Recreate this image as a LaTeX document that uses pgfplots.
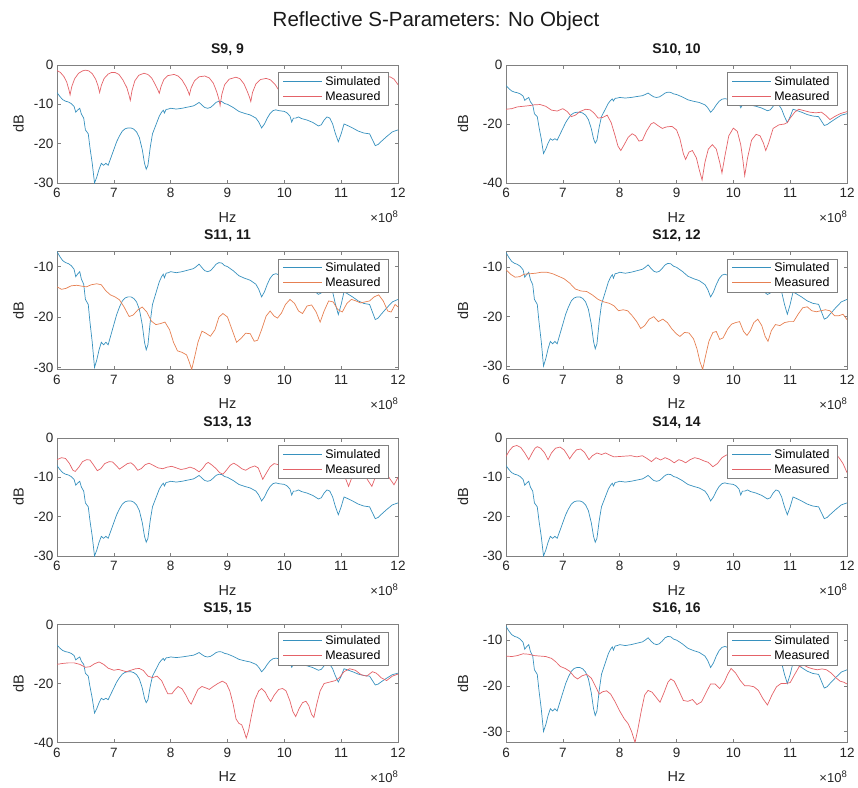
\documentclass[border=0pt]{standalone}
\usepackage{pgfplots}
\usepackage{pgfplotstable}
\pgfplotsset{compat=1.18}
\usepackage{fontspec}
\setmainfont{Liberation Sans}
\definecolor{simc}{RGB}{55,145,190}
\definecolor{measc}{RGB}{228,98,104}
\definecolor{measo}{RGB}{230,128,82}

\pgfplotstableread{
x y
6.00 -7.0
6.05 -8.0
6.10 -8.8
6.15 -9.2
6.20 -9.4
6.25 -9.8
6.30 -10.5
6.33 -12.0
6.36 -11.5
6.40 -11.0
6.43 -12.5
6.47 -13.5
6.50 -16.5
6.55 -17.5
6.58 -21.0
6.62 -25.0
6.66 -30.0
6.70 -28.5
6.74 -26.5
6.78 -25.0
6.82 -25.5
6.86 -25.0
6.90 -25.5
6.95 -23.5
7.00 -21.5
7.05 -19.5
7.10 -18.0
7.15 -16.8
7.20 -16.2
7.25 -16.0
7.30 -16.0
7.35 -16.3
7.40 -17.0
7.45 -18.5
7.50 -21.5
7.54 -25.0
7.57 -26.5
7.60 -25.5
7.64 -21.0
7.68 -17.5
7.72 -16.0
7.76 -14.5
7.80 -13.0
7.84 -12.0
7.87 -11.5
7.89 -12.2
7.92 -11.3
7.96 -11.2
8.00 -11.0
8.10 -11.2
8.20 -11.0
8.30 -10.7
8.40 -10.4
8.45 -10.0
8.50 -9.5
8.55 -10.2
8.60 -10.8
8.65 -11.0
8.70 -10.8
8.75 -10.2
8.80 -9.5
8.85 -9.2
8.90 -9.3
8.95 -9.8
9.00 -10.0
9.10 -10.8
9.20 -11.8
9.30 -12.3
9.40 -12.7
9.50 -13.5
9.55 -14.5
9.60 -16.0
9.65 -15.0
9.70 -13.5
9.75 -12.3
9.80 -11.6
9.85 -11.4
9.90 -11.6
10.00 -11.8
10.05 -12.2
10.10 -13.0
10.13 -14.5
10.16 -13.5
10.20 -13.5
10.25 -13.2
10.30 -13.6
10.40 -14.0
10.50 -14.6
10.60 -15.5
10.65 -15.2
10.70 -14.0
10.75 -13.2
10.80 -13.5
10.85 -15.0
10.90 -17.5
10.95 -19.5
11.00 -17.5
11.05 -15.0
11.10 -15.3
11.20 -16.0
11.30 -16.8
11.40 -17.3
11.50 -17.5
11.55 -19.0
11.60 -20.5
11.65 -20.2
11.70 -19.5
11.80 -18.2
11.90 -17.0
12.00 -16.5
}\simdata

\pgfplotstableread{
x y
6.00 -1.4
6.06 -1.9
6.12 -2.9
6.17 -4.3
6.21 -6.3
6.23 -7.6
6.26 -5.5
6.31 -3.5
6.38 -2.1
6.45 -1.5
6.50 -1.3
6.56 -1.5
6.62 -2.2
6.68 -3.6
6.72 -5.2
6.75 -7.0
6.78 -5.2
6.83 -3.4
6.90 -2.3
6.96 -1.9
7.02 -1.9
7.09 -2.4
7.16 -3.8
7.23 -5.8
7.27 -7.8
7.29 -9.0
7.32 -6.5
7.37 -4.0
7.44 -2.6
7.53 -2.1
7.60 -2.4
7.67 -3.4
7.73 -5.0
7.78 -6.5
7.80 -7.2
7.83 -5.5
7.88 -3.7
7.95 -2.7
8.06 -2.4
8.13 -2.8
8.20 -3.8
8.27 -5.5
8.31 -6.8
8.33 -7.6
8.36 -5.8
8.42 -4.0
8.50 -3.0
8.60 -2.8
8.68 -3.3
8.75 -4.6
8.81 -6.8
8.85 -8.8
8.87 -10.3
8.90 -7.5
8.95 -5.0
9.03 -3.6
9.15 -3.1
9.22 -3.5
9.29 -4.8
9.35 -6.8
9.39 -8.3
9.41 -9.3
9.44 -7.0
9.50 -4.8
9.58 -3.7
9.68 -3.4
9.76 -3.8
9.84 -5.0
9.92 -6.8
9.96 -8.0
9.99 -6.0
10.05 -4.2
10.13 -3.4
10.22 -3.3
10.30 -3.8
10.38 -5.0
10.46 -6.8
10.50 -8.0
10.53 -6.0
10.59 -4.2
10.67 -3.4
10.77 -3.3
10.85 -3.8
10.93 -5.0
11.00 -6.8
11.04 -8.0
11.07 -6.0
11.13 -4.2
11.21 -3.4
11.31 -3.3
11.39 -3.8
11.47 -5.0
11.54 -6.5
11.58 -7.5
11.61 -5.8
11.67 -4.0
11.75 -3.2
11.86 -3.0
11.93 -3.6
12.00 -5.0
}\mNine

\pgfplotstableread{
x y
6.00 -15.0
6.10 -14.8
6.20 -14.2
6.30 -14.0
6.40 -13.8
6.50 -13.5
6.60 -13.4
6.70 -14.0
6.80 -15.3
6.90 -15.6
7.00 -14.8
7.08 -15.8
7.15 -17.5
7.22 -17.0
7.30 -15.8
7.40 -15.0
7.48 -15.2
7.55 -16.3
7.62 -18.0
7.70 -17.8
7.78 -17.0
7.85 -19.5
7.92 -24.0
7.97 -27.5
8.02 -29.0
8.08 -27.0
8.15 -24.5
8.22 -23.3
8.28 -24.0
8.34 -25.8
8.40 -25.5
8.47 -22.5
8.55 -20.0
8.60 -19.5
8.67 -20.5
8.75 -21.5
8.82 -21.0
8.92 -20.8
9.00 -22.0
9.06 -25.0
9.12 -30.0
9.16 -32.0
9.22 -29.5
9.28 -29.0
9.35 -31.5
9.40 -35.5
9.45 -39.0
9.50 -33.0
9.56 -28.5
9.63 -27.0
9.70 -28.5
9.76 -33.0
9.80 -36.6
9.85 -31.0
9.92 -24.0
10.00 -21.4
10.07 -22.5
10.13 -27.0
10.17 -32.5
10.20 -37.5
10.25 -31.5
10.32 -25.5
10.40 -23.5
10.47 -24.0
10.53 -26.5
10.57 -29.0
10.62 -26.5
10.70 -21.5
10.80 -20.3
10.90 -20.0
10.95 -19.5
11.00 -18.0
11.08 -16.0
11.15 -15.0
11.25 -15.5
11.35 -16.0
11.45 -16.2
11.55 -16.0
11.62 -17.0
11.70 -18.5
11.78 -17.5
11.88 -16.5
12.00 -15.8
}\mTen

\pgfplotstableread{
x y
6.00 -14.0
6.08 -14.5
6.16 -14.3
6.25 -13.8
6.35 -13.7
6.45 -13.9
6.52 -14.0
6.60 -13.6
6.70 -13.4
6.78 -13.6
6.86 -14.8
6.94 -15.6
7.02 -16.0
7.10 -16.6
7.18 -18.0
7.27 -19.9
7.34 -19.6
7.42 -18.6
7.50 -18.0
7.58 -19.0
7.66 -20.8
7.74 -21.5
7.82 -21.3
7.90 -21.0
7.98 -22.5
8.05 -25.0
8.12 -26.7
8.20 -27.0
8.28 -27.5
8.33 -29.0
8.37 -30.4
8.42 -28.0
8.48 -25.0
8.55 -22.8
8.62 -23.2
8.70 -23.8
8.78 -22.5
8.85 -20.0
8.92 -19.3
9.00 -20.0
9.08 -22.5
9.16 -25.0
9.24 -24.2
9.32 -23.2
9.40 -23.3
9.47 -24.8
9.53 -24.6
9.60 -22.5
9.68 -19.8
9.75 -18.8
9.82 -19.8
9.88 -20.2
9.95 -19.2
10.02 -17.5
10.10 -16.5
10.18 -17.3
10.25 -18.8
10.32 -19.3
10.40 -17.8
10.48 -17.6
10.56 -19.0
10.63 -21.0
10.70 -18.8
10.78 -16.8
10.86 -17.0
10.94 -18.5
11.02 -19.0
11.10 -17.3
11.18 -16.5
11.26 -16.8
11.34 -17.2
11.42 -17.0
11.50 -16.8
11.58 -16.0
11.66 -15.6
11.74 -16.8
11.82 -18.8
11.88 -19.0
11.95 -17.5
12.00 -18.0
}\mEleven

\pgfplotstableread{
x y
6.00 -10.5
6.08 -11.4
6.16 -12.0
6.24 -11.9
6.32 -11.4
6.42 -11.3
6.52 -11.2
6.62 -11.0
6.72 -11.0
6.82 -11.3
6.92 -11.8
7.02 -12.3
7.12 -13.2
7.22 -14.4
7.32 -14.8
7.42 -14.9
7.52 -15.6
7.62 -16.5
7.72 -17.0
7.82 -17.3
7.90 -17.8
7.98 -18.8
8.06 -18.6
8.14 -18.8
8.22 -19.8
8.30 -21.0
8.37 -22.4
8.44 -21.8
8.52 -20.5
8.60 -20.0
8.68 -21.0
8.76 -20.5
8.84 -21.2
8.92 -22.5
9.00 -23.5
9.06 -24.0
9.14 -23.2
9.22 -23.3
9.30 -24.5
9.36 -26.5
9.41 -29.0
9.46 -30.7
9.51 -28.0
9.57 -25.0
9.64 -23.2
9.70 -23.0
9.76 -24.6
9.82 -24.3
9.90 -22.5
9.97 -21.5
10.04 -21.2
10.11 -21.0
10.18 -23.0
10.24 -23.8
10.30 -22.8
10.36 -21.2
10.43 -20.5
10.50 -21.8
10.56 -24.0
10.61 -25.0
10.67 -22.8
10.74 -21.6
10.82 -21.8
10.90 -21.2
10.98 -21.0
11.06 -21.0
11.14 -19.5
11.22 -18.2
11.30 -18.0
11.38 -18.8
11.46 -19.0
11.54 -18.8
11.62 -18.6
11.70 -18.8
11.78 -19.8
11.86 -19.8
11.93 -19.5
12.00 -20.6
}\mTwelve

\pgfplotstableread{
x y
6.00 -5.5
6.08 -5.0
6.15 -5.2
6.22 -6.5
6.28 -8.2
6.32 -8.5
6.38 -7.5
6.45 -6.0
6.52 -5.5
6.58 -5.6
6.64 -6.8
6.71 -8.3
6.77 -7.8
6.84 -6.5
6.92 -6.0
6.98 -6.1
7.04 -7.0
7.10 -7.9
7.16 -7.3
7.24 -6.5
7.30 -6.3
7.36 -7.0
7.42 -8.2
7.48 -7.8
7.55 -6.8
7.62 -6.4
7.70 -7.0
7.78 -7.6
7.86 -7.8
7.94 -7.4
8.02 -7.2
8.10 -7.6
8.18 -8.0
8.26 -7.8
8.34 -7.4
8.42 -7.8
8.50 -8.6
8.56 -7.8
8.62 -6.6
8.66 -6.2
8.72 -6.8
8.80 -7.8
8.86 -8.8
8.92 -9.2
8.98 -8.2
9.05 -6.9
9.11 -6.4
9.18 -7.0
9.25 -7.8
9.32 -8.2
9.40 -7.5
9.48 -7.1
9.54 -7.6
9.58 -9.0
9.62 -10.5
9.68 -9.0
9.75 -7.3
9.82 -6.5
9.90 -6.8
9.98 -8.0
10.05 -9.5
10.12 -8.5
10.20 -7.2
10.28 -7.5
10.36 -9.0
10.44 -9.5
10.52 -8.0
10.60 -7.5
10.68 -8.5
10.76 -10.0
10.84 -9.0
10.92 -8.0
11.00 -8.5
11.07 -10.0
11.13 -12.3
11.19 -10.0
11.26 -8.5
11.34 -8.5
11.42 -9.5
11.48 -11.0
11.54 -12.3
11.60 -10.0
11.68 -9.0
11.76 -9.0
11.84 -10.0
11.93 -11.9
12.00 -10.0
}\mThirteen

\pgfplotstableread{
x y
6.00 -4.7
6.06 -3.2
6.12 -2.2
6.19 -1.9
6.26 -2.4
6.33 -3.8
6.40 -5.5
6.46 -3.8
6.51 -2.6
6.55 -2.2
6.61 -2.6
6.68 -3.8
6.74 -5.5
6.80 -3.8
6.87 -2.6
6.95 -2.3
7.02 -3.0
7.08 -4.3
7.12 -5.3
7.18 -4.0
7.24 -3.0
7.31 -2.8
7.38 -3.6
7.43 -4.8
7.46 -5.5
7.52 -4.5
7.60 -3.8
7.68 -4.2
7.75 -3.8
7.82 -4.3
7.90 -4.8
8.00 -4.7
8.10 -4.6
8.20 -4.5
8.30 -4.8
8.40 -4.5
8.48 -5.2
8.56 -6.0
8.64 -5.0
8.72 -5.6
8.80 -5.0
8.88 -5.5
8.96 -6.3
9.04 -5.5
9.10 -5.8
9.16 -6.3
9.24 -5.5
9.32 -5.0
9.40 -5.3
9.48 -5.8
9.56 -6.2
9.64 -7.3
9.72 -6.5
9.80 -5.0
9.88 -4.3
9.96 -4.8
10.05 -5.5
10.15 -4.8
10.25 -5.0
10.35 -5.8
10.45 -5.2
10.55 -5.5
10.65 -6.2
10.75 -5.5
10.85 -5.5
10.95 -6.0
11.05 -5.2
11.15 -5.0
11.25 -5.8
11.35 -5.5
11.45 -5.0
11.55 -5.5
11.65 -5.0
11.75 -4.5
11.85 -4.8
11.93 -6.5
12.00 -8.8
}\mFourteen

\pgfplotstableread{
x y
6.00 -13.5
6.10 -13.2
6.20 -13.0
6.30 -13.0
6.40 -13.5
6.50 -14.5
6.58 -14.3
6.66 -13.3
6.74 -12.7
6.82 -13.5
6.90 -14.8
7.00 -15.5
7.08 -15.2
7.15 -15.6
7.22 -16.0
7.30 -15.5
7.38 -15.0
7.45 -14.9
7.52 -15.6
7.60 -17.5
7.68 -18.0
7.76 -17.5
7.84 -19.0
7.90 -21.5
7.95 -23.5
8.02 -23.5
8.08 -22.0
8.13 -21.0
8.20 -21.8
8.27 -24.0
8.32 -26.0
8.36 -27.0
8.42 -24.5
8.48 -22.0
8.55 -21.0
8.62 -21.5
8.68 -22.0
8.75 -21.0
8.83 -20.0
8.91 -19.2
8.98 -20.0
9.04 -22.5
9.10 -27.0
9.15 -32.0
9.20 -33.5
9.25 -34.0
9.29 -36.0
9.33 -38.5
9.37 -36.0
9.42 -31.0
9.48 -25.5
9.55 -22.5
9.60 -21.7
9.66 -22.8
9.72 -25.0
9.76 -26.1
9.82 -24.0
9.90 -22.0
9.97 -21.7
10.03 -22.5
10.10 -26.0
10.15 -29.5
10.20 -31.2
10.26 -28.5
10.32 -26.5
10.38 -26.0
10.43 -27.5
10.48 -30.5
10.52 -31.5
10.57 -27.0
10.63 -22.5
10.70 -20.0
10.80 -19.5
10.90 -19.0
10.97 -18.0
11.05 -16.0
11.15 -15.0
11.25 -15.5
11.35 -17.0
11.45 -17.5
11.55 -16.0
11.62 -16.5
11.70 -18.0
11.80 -19.0
11.90 -17.5
12.00 -16.8
}\mFifteen

\pgfplotstableread{
x y
6.00 -13.5
6.10 -13.6
6.20 -13.4
6.30 -13.0
6.40 -13.1
6.50 -13.4
6.60 -13.5
6.70 -13.6
6.80 -14.0
6.88 -14.8
6.96 -15.8
7.04 -16.2
7.12 -16.8
7.20 -18.0
7.26 -18.5
7.34 -17.8
7.42 -17.5
7.50 -18.3
7.57 -20.0
7.64 -21.8
7.70 -21.3
7.77 -21.1
7.84 -21.8
7.92 -23.5
8.00 -25.5
8.08 -27.2
8.15 -28.3
8.21 -30.0
8.27 -32.4
8.32 -29.5
8.38 -25.5
8.44 -22.0
8.50 -21.0
8.57 -21.4
8.64 -22.5
8.71 -23.6
8.78 -21.5
8.85 -19.2
8.90 -18.5
8.96 -19.0
9.04 -21.0
9.12 -23.2
9.20 -23.4
9.28 -23.0
9.36 -24.1
9.44 -23.5
9.52 -21.5
9.60 -19.6
9.68 -19.6
9.76 -20.6
9.84 -19.2
9.90 -17.5
9.96 -16.2
10.04 -17.2
10.12 -18.8
10.20 -20.0
10.28 -20.0
10.36 -20.2
10.44 -21.0
10.52 -22.8
10.60 -24.2
10.68 -22.0
10.76 -20.2
10.84 -19.5
10.92 -19.5
11.00 -19.3
11.08 -17.5
11.16 -15.8
11.24 -15.5
11.32 -16.0
11.40 -16.3
11.48 -16.5
11.56 -16.3
11.64 -16.5
11.72 -17.2
11.80 -18.2
11.88 -19.0
11.94 -19.2
12.00 -19.6
}\mSixteen

\pgfplotsset{
  sp/.style={
    scale only axis, width=341pt, height=118pt, anchor=north west,
    xmin=6, xmax=12, xtick={6,7,...,12},
    tick align=inside, major tick length=3.5pt,
    axis line style={black!50, line width=0.5pt},
    every tick/.style={black!50, line width=0.5pt},
    tick label style={font=\fontsize{13.5}{14}\selectfont, text=black!85},
    xticklabel style={yshift=-2pt},
    /pgf/number format/assume math mode=true,
    xlabel={Hz}, ylabel={dB},
    label style={font=\fontsize{14.5}{15}\selectfont, text=black!85},
    xlabel style={at={(axis description cs:0.5,-0.29)}, anchor=center},
    title style={font=\bfseries\fontsize{14}{15}\selectfont, text=black!90},
    legend style={at={(1,1)}, anchor=north east, xshift=-10pt, yshift=-7pt,
      draw=black!50, fill=white, font=\fontsize{12.4}{13}\selectfont,
      inner xsep=4.5pt, inner ysep=1.8pt,
      nodes={inner xsep=2.8pt, inner ysep=2.2pt}, row sep=0pt},
    legend cell align=left,
    legend image code/.code={\draw[#1, line width=1pt] (0pt,0pt) -- (39pt,0pt);},
  },
  lcol/.style={ylabel style={at={(axis description cs:-0.113,0.5)}, anchor=center}},
  rcol/.style={ylabel style={at={(axis description cs:-0.126,0.5)}, anchor=center}},
  sim/.style={color=simc, line width=0.7pt},
  mea/.style={color=measc, line width=0.7pt},
  meo/.style={color=measo, line width=0.7pt},
}
\newcommand{\xten}{\fontsize{13}{14}\selectfont ×10\raisebox{5pt}{\fontsize{9.5}{10}\selectfont 8}}

\begin{document}
\begin{tikzpicture}
\useasboundingbox (0,0) rectangle (858pt,-787pt);
\node[font=\fontsize{20.5}{22}\selectfont, text=black!90] at (436pt,-21pt) {Reflective S-Parameters: No Object};

% Row 1
\begin{axis}[sp, lcol, name=a1, at={(57pt,-65pt)}, title={S9, 9},
  ymin=-30, ymax=0, ytick={-30,-20,-10,0}]
\addplot[sim] table {\simdata}; \addlegendentry{Simulated}
\addplot[mea] table {\mNine}; \addlegendentry{Measured}
\end{axis}
\node[anchor=north east, inner sep=0pt, text=black!85] at ([yshift=-28pt]a1.south east) {\xten};

\begin{axis}[sp, rcol, name=a2, at={(506pt,-65pt)}, title={S10, 10},
  ymin=-40, ymax=0, ytick={-40,-20,0}]
\addplot[sim] table {\simdata}; \addlegendentry{Simulated}
\addplot[mea] table {\mTen}; \addlegendentry{Measured}
\end{axis}
\node[anchor=north east, inner sep=0pt, text=black!85] at ([yshift=-28pt]a2.south east) {\xten};

% Row 2
\begin{axis}[sp, lcol, name=a3, at={(57pt,-251.5pt)}, title={S11, 11},
  ymin=-30.4, ymax=-7, ytick={-30,-20,-10}]
\addplot[sim] table {\simdata}; \addlegendentry{Simulated}
\addplot[meo] table {\mEleven}; \addlegendentry{Measured}
\end{axis}
\node[anchor=north east, inner sep=0pt, text=black!85] at ([yshift=-28pt]a3.south east) {\xten};

\begin{axis}[sp, rcol, name=a4, at={(506pt,-251.5pt)}, title={S12, 12},
  ymin=-30.7, ymax=-6.8, ytick={-30,-20,-10}]
\addplot[sim] table {\simdata}; \addlegendentry{Simulated}
\addplot[meo] table {\mTwelve}; \addlegendentry{Measured}
\end{axis}
\node[anchor=north east, inner sep=0pt, text=black!85] at ([yshift=-28pt]a4.south east) {\xten};

% Row 3
\begin{axis}[sp, lcol, name=a5, at={(57pt,-438pt)}, title={S13, 13},
  ymin=-30, ymax=0, ytick={-30,-20,-10,0}]
\addplot[sim] table {\simdata}; \addlegendentry{Simulated}
\addplot[mea] table {\mThirteen}; \addlegendentry{Measured}
\end{axis}
\node[anchor=north east, inner sep=0pt, text=black!85] at ([yshift=-28pt]a5.south east) {\xten};

\begin{axis}[sp, rcol, name=a6, at={(506pt,-438pt)}, title={S14, 14},
  ymin=-30, ymax=0, ytick={-30,-20,-10,0}]
\addplot[sim] table {\simdata}; \addlegendentry{Simulated}
\addplot[mea] table {\mFourteen}; \addlegendentry{Measured}
\end{axis}
\node[anchor=north east, inner sep=0pt, text=black!85] at ([yshift=-28pt]a6.south east) {\xten};

% Row 4
\begin{axis}[sp, lcol, name=a7, at={(57pt,-624.5pt)}, title={S15, 15},
  ymin=-40, ymax=0, ytick={-40,-20,0}]
\addplot[sim] table {\simdata}; \addlegendentry{Simulated}
\addplot[mea] table {\mFifteen}; \addlegendentry{Measured}
\end{axis}
\node[anchor=north east, inner sep=0pt, text=black!85] at ([yshift=-28pt]a7.south east) {\xten};

\begin{axis}[sp, rcol, name=a8, at={(506pt,-624.5pt)}, title={S16, 16},
  ymin=-32.4, ymax=-6.6, ytick={-30,-20,-10}]
\addplot[sim] table {\simdata}; \addlegendentry{Simulated}
\addplot[mea] table {\mSixteen}; \addlegendentry{Measured}
\end{axis}
\node[anchor=north east, inner sep=0pt, text=black!85] at ([yshift=-28pt]a8.south east) {\xten};
\end{tikzpicture}
\end{document}
